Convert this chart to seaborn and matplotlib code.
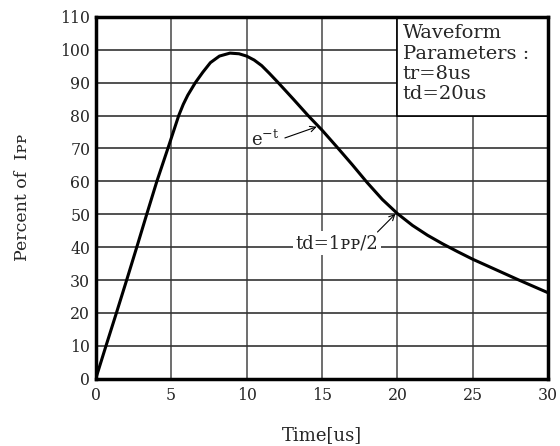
import matplotlib
matplotlib.use("Agg")
import matplotlib.pyplot as plt
import seaborn as sns
import pandas as pd
from matplotlib.patches import Rectangle

sns.set_style("white")
plt.rcParams['font.family'] = ['DejaVu Serif', 'DejaVu Sans']
plt.rcParams['mathtext.fontset'] = 'dejavuserif'

time_us = [0, 0.68, 1.37, 2.05, 2.72, 3.38, 4.05, 4.78, 5.5, 5.8, 6.1, 6.6, 7.1, 7.6, 8.2, 8.9,
           9.5, 10, 10.5, 11, 11.5, 12.1, 13.1, 14.08, 15, 16, 17, 18, 19, 20, 21, 22, 23, 24,
           25, 26.5, 28, 30]
percent = [0, 10, 20, 30, 40, 50, 60, 70, 80, 83.4, 86.2, 90, 93.2, 96.1, 98.1, 99,
           98.8, 98.1, 96.9, 95.2, 92.9, 90, 85, 80, 75.6, 70.4, 65.1, 59.6, 54.5, 50.2, 46.6, 43.6, 41.0, 38.6,
           36.3, 33.2, 30.1, 26.1]
x_ticks = [0, 5, 10, 15, 20, 25, 30]
y_ticks = [0, 10, 20, 30, 40, 50, 60, 70, 80, 90, 100, 110]

df = pd.DataFrame({"t": time_us, "p": percent})

fig = plt.figure(figsize=(5.6, 4.46), dpi=100)
ax = fig.add_axes([0.171, 0.151, 0.808, 0.811])

for xv in x_ticks[1:-1]:
    ax.axvline(xv, color='#555555', lw=1.2, zorder=1)
for yv in y_ticks[1:-1]:
    ax.axhline(yv, color='#333333', lw=1.2, zorder=1)

ax.add_patch(Rectangle((20, 80), 10, 30, facecolor='white', edgecolor='black', lw=1.2, zorder=2))

sns.lineplot(data=df, x="t", y="p", ax=ax, color='black', lw=2.2, zorder=5)

ax.set_xlim(0, 30)
ax.set_ylim(0, 110)
ax.set_xticks(x_ticks)
ax.set_yticks(y_ticks)
ax.tick_params(length=0, labelsize=11.3)
ax.tick_params(axis='x', pad=6)
ax.tick_params(axis='y', pad=4)
for s in ax.spines.values():
    s.set_linewidth(2.5)
    s.set_color('black')
    s.set_zorder(6)

ax.set_xlabel("Time[us]", fontsize=13, labelpad=16)
ax.set_ylabel("Percent of  Iᴘᴘ", fontsize=12.5, labelpad=21)

ax.text(20.35, 107.8, "Waveform\nParameters :\ntr=8us\ntd=20us", fontsize=14,
        va='top', ha='left', linespacing=1.17, zorder=7)

ax.text(10.3, 72.5, "$\\mathregular{e^{-t}}$", fontsize=13, ha='left', va='center', zorder=7)
ax.annotate("", xy=(14.65, 76.6), xytext=(12.54, 73.2), zorder=7,
            arrowprops=dict(arrowstyle='->', color='black', lw=0.8, shrinkA=0, shrinkB=0))

ax.text(16.0, 41.2, "td=1ᴘᴘ/2", fontsize=13, ha='center', va='center', zorder=7,
        bbox=dict(boxstyle='square,pad=0.15', fc='white', ec='none'))
ax.annotate("", xy=(19.87, 50.1), xytext=(18.68, 44.6), zorder=7,
            arrowprops=dict(arrowstyle='->', color='black', lw=0.8, shrinkA=0, shrinkB=0))

fig.savefig("out.png", dpi=100)
